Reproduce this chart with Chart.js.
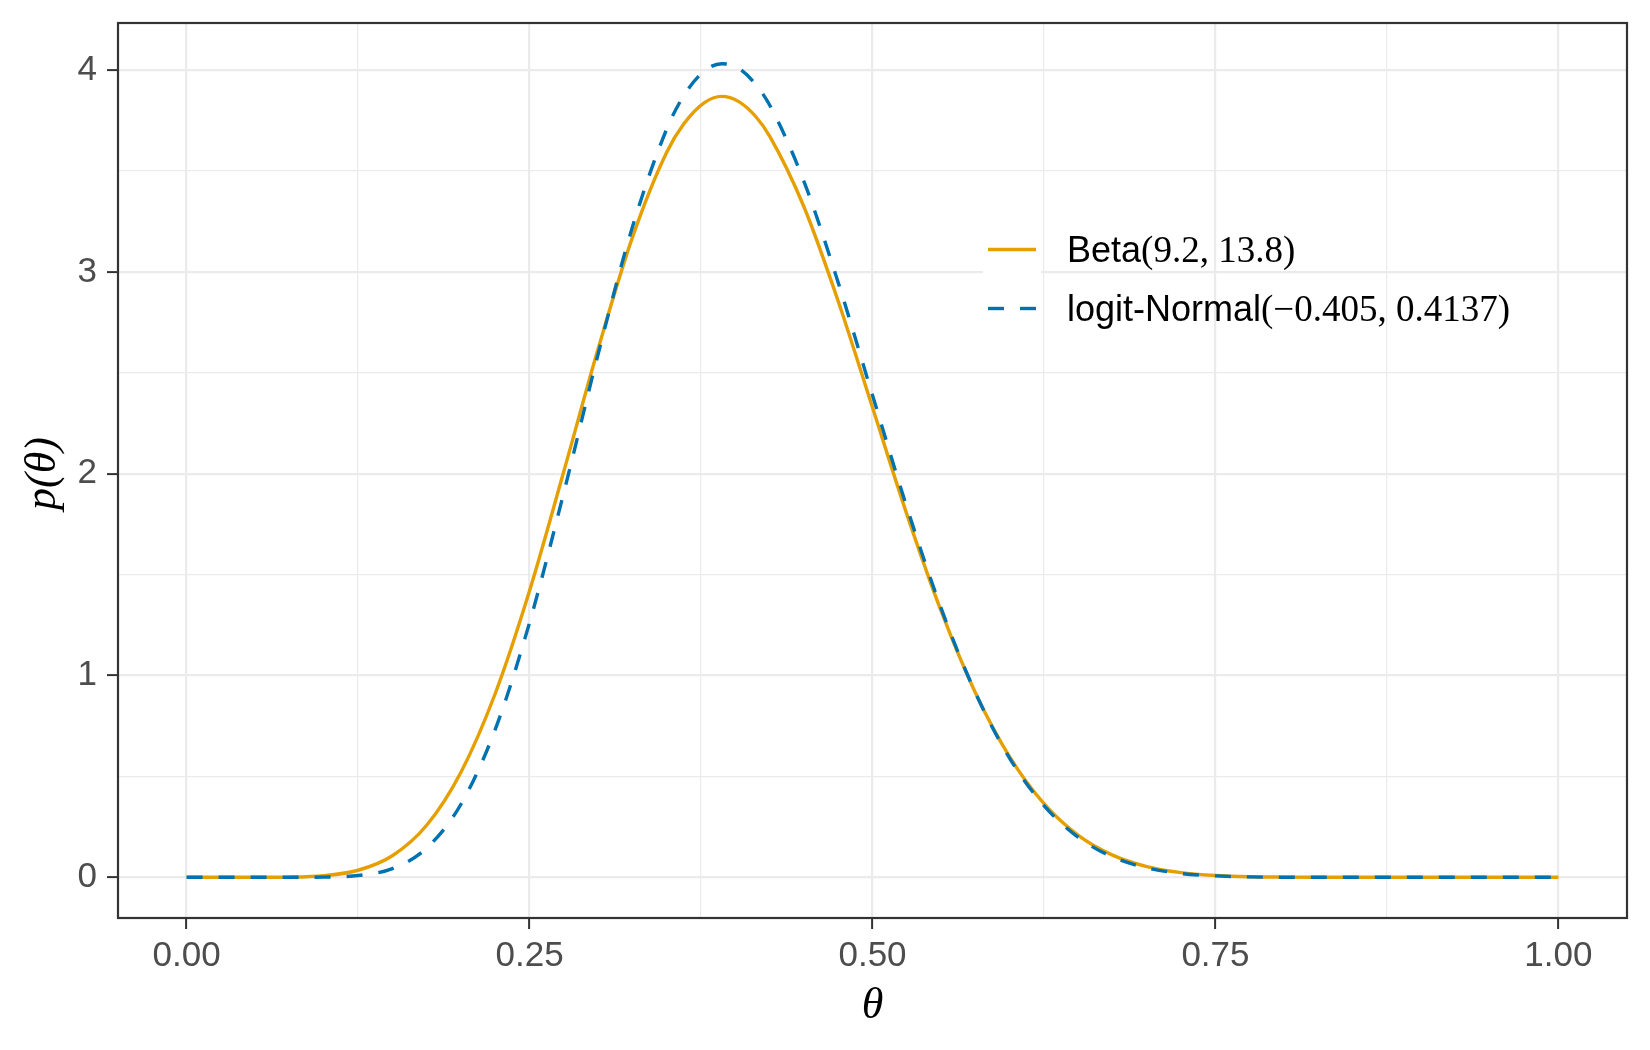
<!DOCTYPE html>
<html>
<head>
<meta charset="utf-8">
<script src="https://cdn.jsdelivr.net/npm/chart.js@4/dist/chart.umd.min.js"></script>
<style>
  html, body { margin: 0; padding: 0; background: #fff; }
  #wrap { width: 1650px; height: 1050px; position: relative; }
</style>
</head>
<body>
<div id="wrap"><canvas id="densityChart"></canvas></div>
<script>
/* ── Data ── */
const theta = [0, 0.025, 0.05, 0.075, 0.1, 0.125, 0.15, 0.175, 0.2, 0.225, 0.25, 0.275, 0.3, 0.325, 0.35, 0.3625, 0.3775, 0.39, 0.4025, 0.415,
  0.425, 0.45, 0.475, 0.5, 0.525, 0.55, 0.575, 0.6, 0.625, 0.65, 0.675, 0.7, 0.725, 0.75, 0.775, 0.8,
  0.825, 0.85, 0.875, 0.9, 0.925, 0.95, 0.975, 1];
const betaDensity = [0, 0, 0.0001, 0.001, 0.008, 0.035, 0.107, 0.258, 0.521, 0.911, 1.420, 2.012, 2.619, 3.171, 3.593, 3.734, 3.839, 3.870, 3.844, 3.769,
  3.673, 3.323, 2.855, 2.328, 1.800, 1.320, 0.915, 0.597, 0.365, 0.208, 0.110, 0.053, 0.023, 0.009, 0.003, 0.001,
  0, 0, 0, 0, 0, 0, 0, 0];
const logitNormalDensity = [0, 0, 0, 0, 0.001, 0.009, 0.043, 0.145, 0.362, 0.733, 1.262, 1.907, 2.593, 3.223, 3.708, 3.874, 3.996, 4.032, 4.009, 3.928,
  3.827, 3.449, 2.947, 2.389, 1.835, 1.334, 0.915, 0.590, 0.355, 0.198, 0.101, 0.047, 0.019, 0.007, 0.002, 0.0005,
  0, 0, 0, 0, 0, 0, 0, 0];

const xMajor = [0, 0.25, 0.5, 0.75, 1];
const xMinor = [0.125, 0.375, 0.625, 0.875];
const xTickLabels = ['0.00', '0.25', '0.50', '0.75', '1.00'];
const yMajor = [0, 1, 2, 3, 4];
const yMinor = [0.5, 1.5, 2.5, 3.5];
const yTickLabels = ['0', '1', '2', '3', '4'];

const seriesNames = ['Beta', 'logit-Normal'];
const seriesParams = ['(9.2, 13.8)', '(\u22120.405, 0.4137)'];
const seriesColors = ['#E69F00', '#0072B2'];

const GRID = '#EBEBEB';
const INK = '#333333';
const SANS = '"Liberation Sans", Arial, Helvetica, sans-serif';
const SERIF = '"Liberation Serif", "Times New Roman", serif';

const toPoints = ys => theta.map((x, i) => ({ x, y: ys[i] }));

function gridScale(major, minor, labels, min, max, pad) {
  const all = major.concat(minor).sort((a, b) => a - b);
  const isMajor = v => major.some(m => Math.abs(m - v) < 1e-9);
  return {
    type: 'linear',
    min, max,
    afterBuildTicks: s => { s.ticks = all.map(v => ({ value: v })); },
    border: { display: false },
    grid: {
      color: GRID,
      lineWidth: c => isMajor(c.tick.value) ? 2.2 : 1.2,
      tickColor: c => isMajor(c.tick.value) ? INK : 'rgba(0,0,0,0)',
      tickWidth: 2,
      tickLength: 11,
    },
    ticks: {
      color: '#4D4D4D',
      font: { family: SANS, size: 35 },
      padding: pad,
      autoSkip: false,
      maxRotation: 0,
      callback: v => {
        const i = major.findIndex(m => Math.abs(m - v) < 1e-9);
        return i >= 0 ? labels[i] : '';
      }
    }
  };
}

/* ── Panel border, axis titles, legend ── */
const decor = {
  id: 'decor',
  afterDraw(chart) {
    const { ctx, chartArea: a } = chart;
    ctx.save();
    ctx.strokeStyle = INK;
    ctx.lineWidth = 2.2;
    ctx.strokeRect(a.left, a.top, a.right - a.left, a.bottom - a.top);

    // axis titles
    ctx.fillStyle = '#000';
    ctx.textAlign = 'center';
    ctx.textBaseline = 'middle';
    ctx.font = 'italic 44px ' + SERIF;
    ctx.fillText('\u03B8', (a.left + a.right) / 2, 1006);
    ctx.save();
    ctx.translate(43, (a.top + a.bottom) / 2 + 3);
    ctx.rotate(-Math.PI / 2);
    ctx.fillText('p(\u03B8)', 0, 0);
    ctx.restore();

    // legend
    const keyL = a.left + 865, keyW = 58, rowH = 59, top0 = a.top + 197;
    ctx.fillStyle = '#fff';
    ctx.fillRect(keyL, top0, keyW, rowH * 2);
    seriesNames.forEach((name, i) => {
      const cy = top0 + rowH * i + rowH / 2;
      ctx.strokeStyle = seriesColors[i];
      ctx.lineWidth = 3.4;
      ctx.setLineDash(i === 1 ? [16, 16] : []);
      ctx.beginPath();
      ctx.moveTo(keyL + 5, cy);
      ctx.lineTo(keyL + 53, cy);
      ctx.stroke();
      ctx.setLineDash([]);
      ctx.fillStyle = '#000';
      ctx.textAlign = 'left';
      ctx.textBaseline = 'alphabetic';
      const tx = keyL + 84, base = cy + 12;
      ctx.font = '36px ' + SANS;
      ctx.fillText(name, tx, base);
      const w = ctx.measureText(name).width;
      ctx.font = '37px ' + SERIF;
      ctx.fillText(seriesParams[i], tx + w, base);
    });
    ctx.restore();
  }
};

new Chart(document.getElementById('densityChart'), {
  type: 'line',
  data: {
    datasets: [
      {
        label: seriesNames[0],
        data: toPoints(betaDensity),
        borderColor: seriesColors[0],
        borderWidth: 3.4,
        pointRadius: 0,
        cubicInterpolationMode: 'monotone',
        order: 2,
      },
      {
        label: seriesNames[1],
        data: toPoints(logitNormalDensity),
        borderColor: seriesColors[1],
        borderWidth: 3.4,
        borderDash: [16, 16],
        pointRadius: 0,
        cubicInterpolationMode: 'monotone',
        order: 1,
      }
    ]
  },
  options: {
    responsive: true,
    maintainAspectRatio: false,
    animation: false,
    devicePixelRatio: 1,
    layout: { padding: { top: 23, right: 23, left: 0, bottom: 0 } },
    plugins: { legend: { display: false }, tooltip: { enabled: false } },
    scales: {
      x: Object.assign(gridScale(xMajor, xMinor, xTickLabels, -0.05, 1.05, 6), {
        afterFit: s => { s.height = 132; s.paddingLeft = 0; s.paddingRight = 0; },
      }),
      y: Object.assign(gridScale(yMajor, yMinor, yTickLabels, -0.2016, 4.2336, 10), {
        afterFit: s => { s.width = 118; s.paddingTop = 0; s.paddingBottom = 0; },
      })
    }
  },
  plugins: [decor]
});
</script>
</body>
</html>
